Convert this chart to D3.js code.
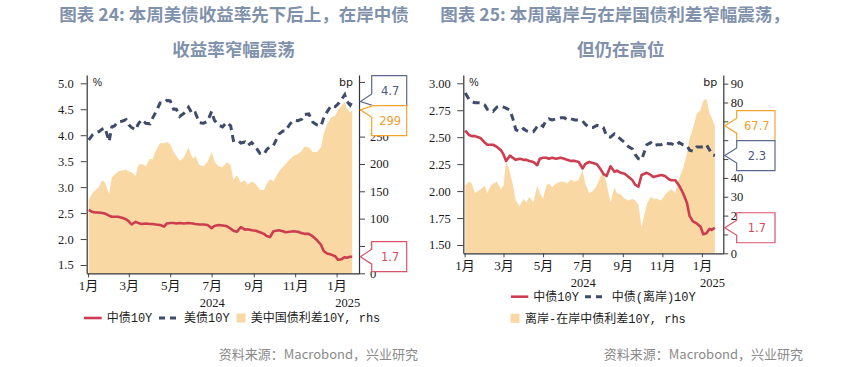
<!DOCTYPE html>
<html><head><meta charset="utf-8">
<script src="https://cdn.jsdelivr.net/npm/d3@7"></script>
<style>
html,body{margin:0;padding:0;background:#fff;}
svg{display:block;}
</style></head>
<body>
<svg id="chart" width="848" height="367"></svg>
<script>
// ---------------- DATA ----------------
const dates = [
"2024-01-02","2024-01-08","2024-01-12","2024-01-17","2024-01-22","2024-01-26",
"2024-02-01","2024-02-05","2024-02-09","2024-02-14","2024-02-20","2024-02-26",
"2024-03-01","2024-03-05","2024-03-11","2024-03-15","2024-03-20","2024-03-26",
"2024-04-01","2024-04-05","2024-04-10","2024-04-16","2024-04-22","2024-04-26",
"2024-05-01","2024-05-06","2024-05-10","2024-05-15","2024-05-21","2024-05-28",
"2024-06-03","2024-06-07","2024-06-13","2024-06-19","2024-06-25",
"2024-07-01","2024-07-05","2024-07-11","2024-07-17","2024-07-23","2024-07-29",
"2024-08-02","2024-08-07","2024-08-13","2024-08-19","2024-08-23","2024-08-29",
"2024-09-04","2024-09-10","2024-09-16","2024-09-20","2024-09-25","2024-09-30",
"2024-10-08","2024-10-14","2024-10-18","2024-10-24","2024-10-30",
"2024-11-05","2024-11-11","2024-11-15","2024-11-21","2024-11-27",
"2024-12-03","2024-12-09","2024-12-13","2024-12-18","2024-12-24","2024-12-30",
"2025-01-03","2025-01-08","2025-01-13","2025-01-16","2025-01-21","2025-01-24"];

// 中债10Y (%)
const cn10y = [
2.56,2.52,2.51,2.51,2.50,2.49,
2.45,2.43,2.43,2.43,2.41,2.38,
2.34,2.28,2.33,2.31,2.29,2.30,
2.29,2.29,2.28,2.27,2.24,2.30,
2.31,2.31,2.30,2.31,2.30,2.31,
2.30,2.29,2.28,2.28,2.27,
2.21,2.25,2.27,2.26,2.25,2.20,
2.16,2.14,2.23,2.18,2.19,2.17,
2.16,2.13,2.10,2.06,2.04,2.15,
2.17,2.15,2.13,2.14,2.15,
2.14,2.11,2.10,2.10,2.05,
1.98,1.89,1.77,1.72,1.70,1.67,
1.60,1.61,1.65,1.64,1.66,1.66];

// 美债10Y (%)
const us10y = [
3.91,4.01,4.04,4.07,4.12,4.14,
3.88,4.16,4.18,4.26,4.27,4.30,
4.20,4.15,4.10,4.22,4.30,4.23,
4.22,4.33,4.45,4.62,4.62,4.67,
4.66,4.50,4.50,4.36,4.42,4.54,
4.40,4.43,4.24,4.23,4.27,
4.46,4.29,4.20,4.16,4.25,4.18,
3.90,3.92,3.85,3.87,3.80,3.86,
3.77,3.65,3.63,3.72,3.78,3.80,
4.02,4.08,4.08,4.21,4.29,
4.28,4.31,4.40,4.41,4.25,
4.20,4.18,4.33,4.45,4.57,4.55,
4.60,4.68,4.78,4.65,4.58,4.65];

// 美中国债利差10Y (bp, rhs)
const usCnSpread = [
134,148,152,158,170,166,
145,175,180,186,188,190,
186,185,178,198,200,196,
210,208,225,238,238,240,
236,222,215,206,212,230,
210,214,198,196,204,
222,205,196,194,203,198,
170,180,166,170,162,168,
163,153,152,164,172,168,
186,195,200,208,215,
218,224,232,230,222,
222,230,255,272,285,288,
298,306,314,302,294,299];

// 中债(离岸)10Y (%)
const cnh10y = [
2.91,2.85,2.83,2.82,2.82,2.82,
2.80,2.76,2.76,2.74,2.78,2.79,
2.78,2.77,2.75,2.68,2.57,2.55,
2.58,2.56,2.55,2.55,2.60,2.62,
2.60,2.66,2.67,2.66,2.67,2.68,
2.68,2.66,2.67,2.66,2.66,
2.65,2.62,2.59,2.59,2.61,2.60,
2.59,2.51,2.50,2.53,2.51,2.48,
2.45,2.41,2.39,2.34,2.30,2.29,
2.43,2.45,2.42,2.43,2.43,
2.45,2.44,2.44,2.42,2.45,
2.43,2.42,2.38,2.37,2.41,2.41,
2.41,2.43,2.38,2.34,2.33];

// 离岸-在岸中债利差10Y (bp, rhs)
const offOnSpread = [
36,38,37,32,33,34,
36,32,35,37,38,34,
36,49,43,37,28,25,
29,27,30,27,36,32,
29,36,37,35,37,38,
38,37,39,38,39,
44,37,32,33,36,41,
43,37,27,35,32,31,
29,28,29,28,26,14,
26,30,29,29,28,
31,33,34,32,40,
45,53,61,66,74,76,
81,82,74,72,67.7];

const xDomain = ["2023-12-30","2025-02-03"];
const monthTicks = ["2024-01-01","2024-03-01","2024-05-01","2024-07-01","2024-09-01","2024-11-01","2025-01-01"];
const monthLabels = ["1月","3月","5月","7月","9月","11月","1月"];
const yearLabels = ["2024","2025"];
const yearSpans = [["2024-01-01","2025-01-01"],["2025-01-01","2025-02-03"]];

const leftYTicksL = [1.5,2.0,2.5,3.0,3.5,4.0,4.5,5.0];
const leftYTicksR = [0,50,100,150,200,250,300,350];
const rightYTicksL = [1.50,1.75,2.00,2.25,2.50,2.75,3.00];
const rightYTicksR = [0,10,20,30,40,50,60,70,80,90];

const titlesLeft = ["图表 24: 本周美债收益率先下后上，在岸中债","收益率窄幅震荡"];
const titlesRight = ["图表 25: 本周离岸与在岸国债利差窄幅震荡，","但仍在高位"];
const sourceText = "资料来源：Macrobond，兴业研究";

// ---------------- STYLE ----------------
const RED = "#cc3d50", NAVY = "#3f4b6a", AREA = "#f9d8a3";
const C_ORANGE = "#f3a42c", C_SLATE = "#5b6a8c", C_RED = "#d9536b";
const TITLE = "#7f91ab";
const TICKFONT = "'Liberation Serif','Noto Sans CJK SC',serif";
const LEGFONT = "'Liberation Mono','Noto Sans CJK SC',monospace";
const CJK = "'Noto Sans CJK SC',sans-serif";

const parse = d3.timeParse("%Y-%m-%d");
const svg = d3.select("#chart");

function panel(o){
  const g = svg.append("g");
  const x = d3.scaleTime().domain(xDomain.map(parse)).range([o.x0, o.x1]);
  const yL = d3.scaleLinear().domain(o.yLDomain).range([o.y1, o.y0]);
  const yR = d3.scaleLinear().domain(o.yRDomain).range([o.y1, o.y0]);
  const ds = dates.map(parse);

  // area (rhs)
  g.append("path").datum(o.area)
    .attr("d", d3.area().x((d,i)=>x(ds[i])).y0(yR(0)).y1(d=>yR(d)))
    .attr("fill", AREA);
  // solid red line
  g.append("path").datum(o.solid)
    .attr("d", d3.line().x((d,i)=>x(ds[i])).y(d=>yL(d)))
    .attr("fill","none").attr("stroke",RED).attr("stroke-width",2.6).attr("stroke-linejoin","round");
  // dashed navy line
  g.append("path").datum(o.dashed)
    .attr("d", d3.line().x((d,i)=>x(ds[i])).y(d=>yL(d)))
    .attr("fill","none").attr("stroke",NAVY).attr("stroke-width",3).attr("stroke-dasharray","7,5");

  // callout layout (computed first so covered rhs labels can be skipped)
  const BH = 30;
  let items = o.callouts.map(c=>({...c, ty: (c.axis==="left"? yL : yR)(c.value)})).sort((a,b)=>a.ty-b.ty);
  let groups = items.map(b=>({items:[b], center:b.ty}));
  let merged = true;
  while(merged){
    merged = false;
    for(let i=1;i<groups.length;i++){
      const a = groups[i-1], b = groups[i];
      if (b.center - b.items.length*BH/2 < a.center + a.items.length*BH/2){
        const its = a.items.concat(b.items);
        groups.splice(i-1,2,{items:its, center:d3.mean(its,d=>d.ty)});
        merged = true; break;
      }
    }
  }
  groups.forEach(gr=>{
    let top = gr.center - gr.items.length*BH/2;
    gr.top = top; gr.bottom = top + gr.items.length*BH;
    gr.items.forEach(it=>{ it.by = top; top += BH; });
  });
  const covered = v => { const yy = yR(v); return groups.some(gr => yy-5 >= gr.top && yy+5 <= gr.bottom); };
  const rTicks = o.yRTicks.filter(v => !covered(v));

  // axes
  const styleAxis = sel => {
    sel.select(".domain").attr("stroke","#333").attr("stroke-width",1.2);
    sel.selectAll(".tick line").attr("stroke","#444");
    sel.selectAll("text").attr("font-family",TICKFONT).attr("font-size","12.5px").attr("fill","#1a1a1a");
  };
  g.append("g").attr("transform",`translate(${o.x0},0)`)
    .call(d3.axisLeft(yL).tickValues(o.yLTicks).tickSize(6).tickSizeOuter(0).tickPadding(o.padL).tickFormat(d3.format(o.fmtL)))
    .call(styleAxis);
  const ra = g.append("g").attr("transform",`translate(${o.x1},0)`)
    .call(d3.axisRight(yR).tickValues(o.yRTicks).tickSize(o.tickR).tickSizeOuter(0).tickPadding(o.padR)
      .tickFormat(d => rTicks.includes(d) ? d3.format("d")(d) : ""))
    .call(styleAxis);
  ra.selectAll("text").filter(function(){ return this.textContent === ""; }).remove();
  const bx = g.append("g").attr("transform",`translate(0,${o.y1})`)
    .call(d3.axisBottom(x).tickValues(monthTicks.map(parse)).tickSize(4).tickSizeOuter(0).tickFormat((d,i)=>monthLabels[i]))
    .call(styleAxis);
  bx.selectAll("text").attr("y",12.2).attr("dy","0.35em").attr("font-size","13px");

  // year labels
  g.selectAll(".yr").data(yearLabels).enter().append("text")
    .attr("x",(d,i)=>(x(parse(yearSpans[i][0]))+x(parse(yearSpans[i][1])))/2)
    .attr("y",o.y1+29).attr("dy","0.35em").attr("text-anchor","middle")
    .attr("font-family",TICKFONT).attr("font-size","12.5px").attr("fill","#1a1a1a").text(d=>d);

  // unit labels
  g.append("text").attr("x",o.x0+6).attr("y",o.y0+7).attr("dy","0.35em")
    .attr("font-family","'Liberation Sans',sans-serif").attr("font-size","10.5px").attr("fill","#222").text("%");
  g.append("text").attr("x",o.x1-6).attr("y",o.y0+7).attr("dy","0.35em").attr("text-anchor","end")
    .attr("font-family","'DejaVu Sans',sans-serif").attr("font-size","11px").attr("fill","#222").text("bp");

  // callouts
  const bxl = o.x1 + o.boxGap, tipX = o.x1 + 1.5, w = o.boxW;
  items.forEach(it=>{
    const bTop = Math.max(it.ty-7.5, it.by+0.5), bBot = Math.min(it.ty+7.5, it.by+BH-0.5);
    const p = `M${bxl},${it.by}H${bxl+w}V${it.by+BH}H${bxl}V${bBot}L${tipX},${it.ty}L${bxl},${bTop}Z`;
    g.append("path").attr("d",p).attr("fill","#fff").attr("stroke",it.color).attr("stroke-width",1.2);
    g.append("text").attr("x",bxl+w/2+1).attr("y",it.by+BH/2).attr("dy","0.36em").attr("text-anchor","middle")
      .attr("font-family","'DejaVu Sans',sans-serif").attr("font-size","11.5px").attr("fill",it.text)
      .text(d3.format(it.fmt)(it.value));
  });
}

// ---------------- LEFT PANEL ----------------
panel({
  x0:86.7, x1:359, y0:75, y1:273.3,
  yLDomain:[1.34,5.16], yRDomain:[0,362.7],
  yLTicks:leftYTicksL, yRTicks:leftYTicksR, fmtL:".1f",
  padL:7, tickR:6, padR:5,
  area:usCnSpread, solid:cn10y, dashed:us10y,
  boxGap:12.7, boxW:35,
  callouts:[
    {value:us10y[us10y.length-1], axis:"left", fmt:".1f", color:C_SLATE, text:"#4a5a7e"},
    {value:usCnSpread[usCnSpread.length-1], axis:"right", fmt:".0f", color:C_ORANGE, text:"#f0a030"},
    {value:cn10y[cn10y.length-1], axis:"left", fmt:".1f", color:C_RED, text:"#d84c60"}
  ]
});

// ---------------- RIGHT PANEL ----------------
panel({
  x0:463.3, x1:723.3, y0:75, y1:253.3,
  yLDomain:[1.423,3.077], yRDomain:[0,94.6],
  yLTicks:rightYTicksL, yRTicks:rightYTicksR, fmtL:".2f",
  padL:6.5, tickR:5, padR:2.5,
  area:offOnSpread, solid:cn10y.slice(0,offOnSpread.length), dashed:cnh10y,
  boxGap:13.4, boxW:38.3,
  callouts:[
    {value:offOnSpread[offOnSpread.length-1], axis:"right", fmt:".1f", color:C_ORANGE, text:"#f0a030"},
    {value:cnh10y[cnh10y.length-1], axis:"left", fmt:".1f", color:C_SLATE, text:"#4a5a7e"},
    {value:cn10y[offOnSpread.length-1], axis:"left", fmt:".1f", color:C_RED, text:"#d84c60"}
  ]
});

// ---------------- TITLES ----------------
function title(lines, cx){
  svg.append("text").attr("x",cx[0]).attr("y",15).attr("dy","0.36em").attr("text-anchor","middle")
    .attr("font-family",CJK).attr("font-weight",700).attr("font-size","17.5px").attr("fill",TITLE).text(lines[0]);
  svg.append("text").attr("x",cx[1]).attr("y",50).attr("dy","0.36em").attr("text-anchor","middle")
    .attr("font-family",CJK).attr("font-weight",700).attr("font-size","17.5px").attr("fill",TITLE).text(lines[1]);
}
title(titlesLeft,[234,233.5]);
title(titlesRight,[615,620.7]);

// ---------------- LEGENDS ----------------
function legLine(x1,x2,y,color,dash){
  svg.append("line").attr("x1",x1).attr("x2",x2).attr("y1",y).attr("y2",y)
    .attr("stroke",color).attr("stroke-width",dash?3:2.6).attr("stroke-dasharray",dash?"6,5":null);
}
function legSq(x,y){ svg.append("rect").attr("x",x).attr("y",y-4.5).attr("width",9).attr("height",9).attr("fill",AREA); }
function legText(x,y,t){
  svg.append("text").attr("x",x).attr("y",y).attr("dy","0.36em").attr("font-family",LEGFONT)
    .attr("font-size","12px").attr("fill","#222").text(t);
}
legLine(84,101.7,318,RED,false); legText(106.7,318,"中债10Y");
legLine(159,180,318,NAVY,true); legText(184,318,"美债10Y");
legSq(236.5,318); legText(250.7,318,"美中国债利差10Y, rhs");

legLine(511,528.3,296.7,RED,false); legText(533.3,296.7,"中债10Y");
legLine(585,607,296.7,NAVY,true); legText(611.7,296.7,"中债(离岸)10Y");
legSq(510.5,318.3); legText(525,318.3,"离岸-在岸中债利差10Y, rhs");

// ---------------- SOURCES ----------------
[418,803].forEach(xx=>{
  svg.append("text").attr("x",xx).attr("y",354).attr("dy","0.36em").attr("text-anchor","end")
    .attr("font-family",CJK).attr("font-size","13px").attr("fill","#8a8a8a").text(sourceText);
});
</script>
</body></html>
